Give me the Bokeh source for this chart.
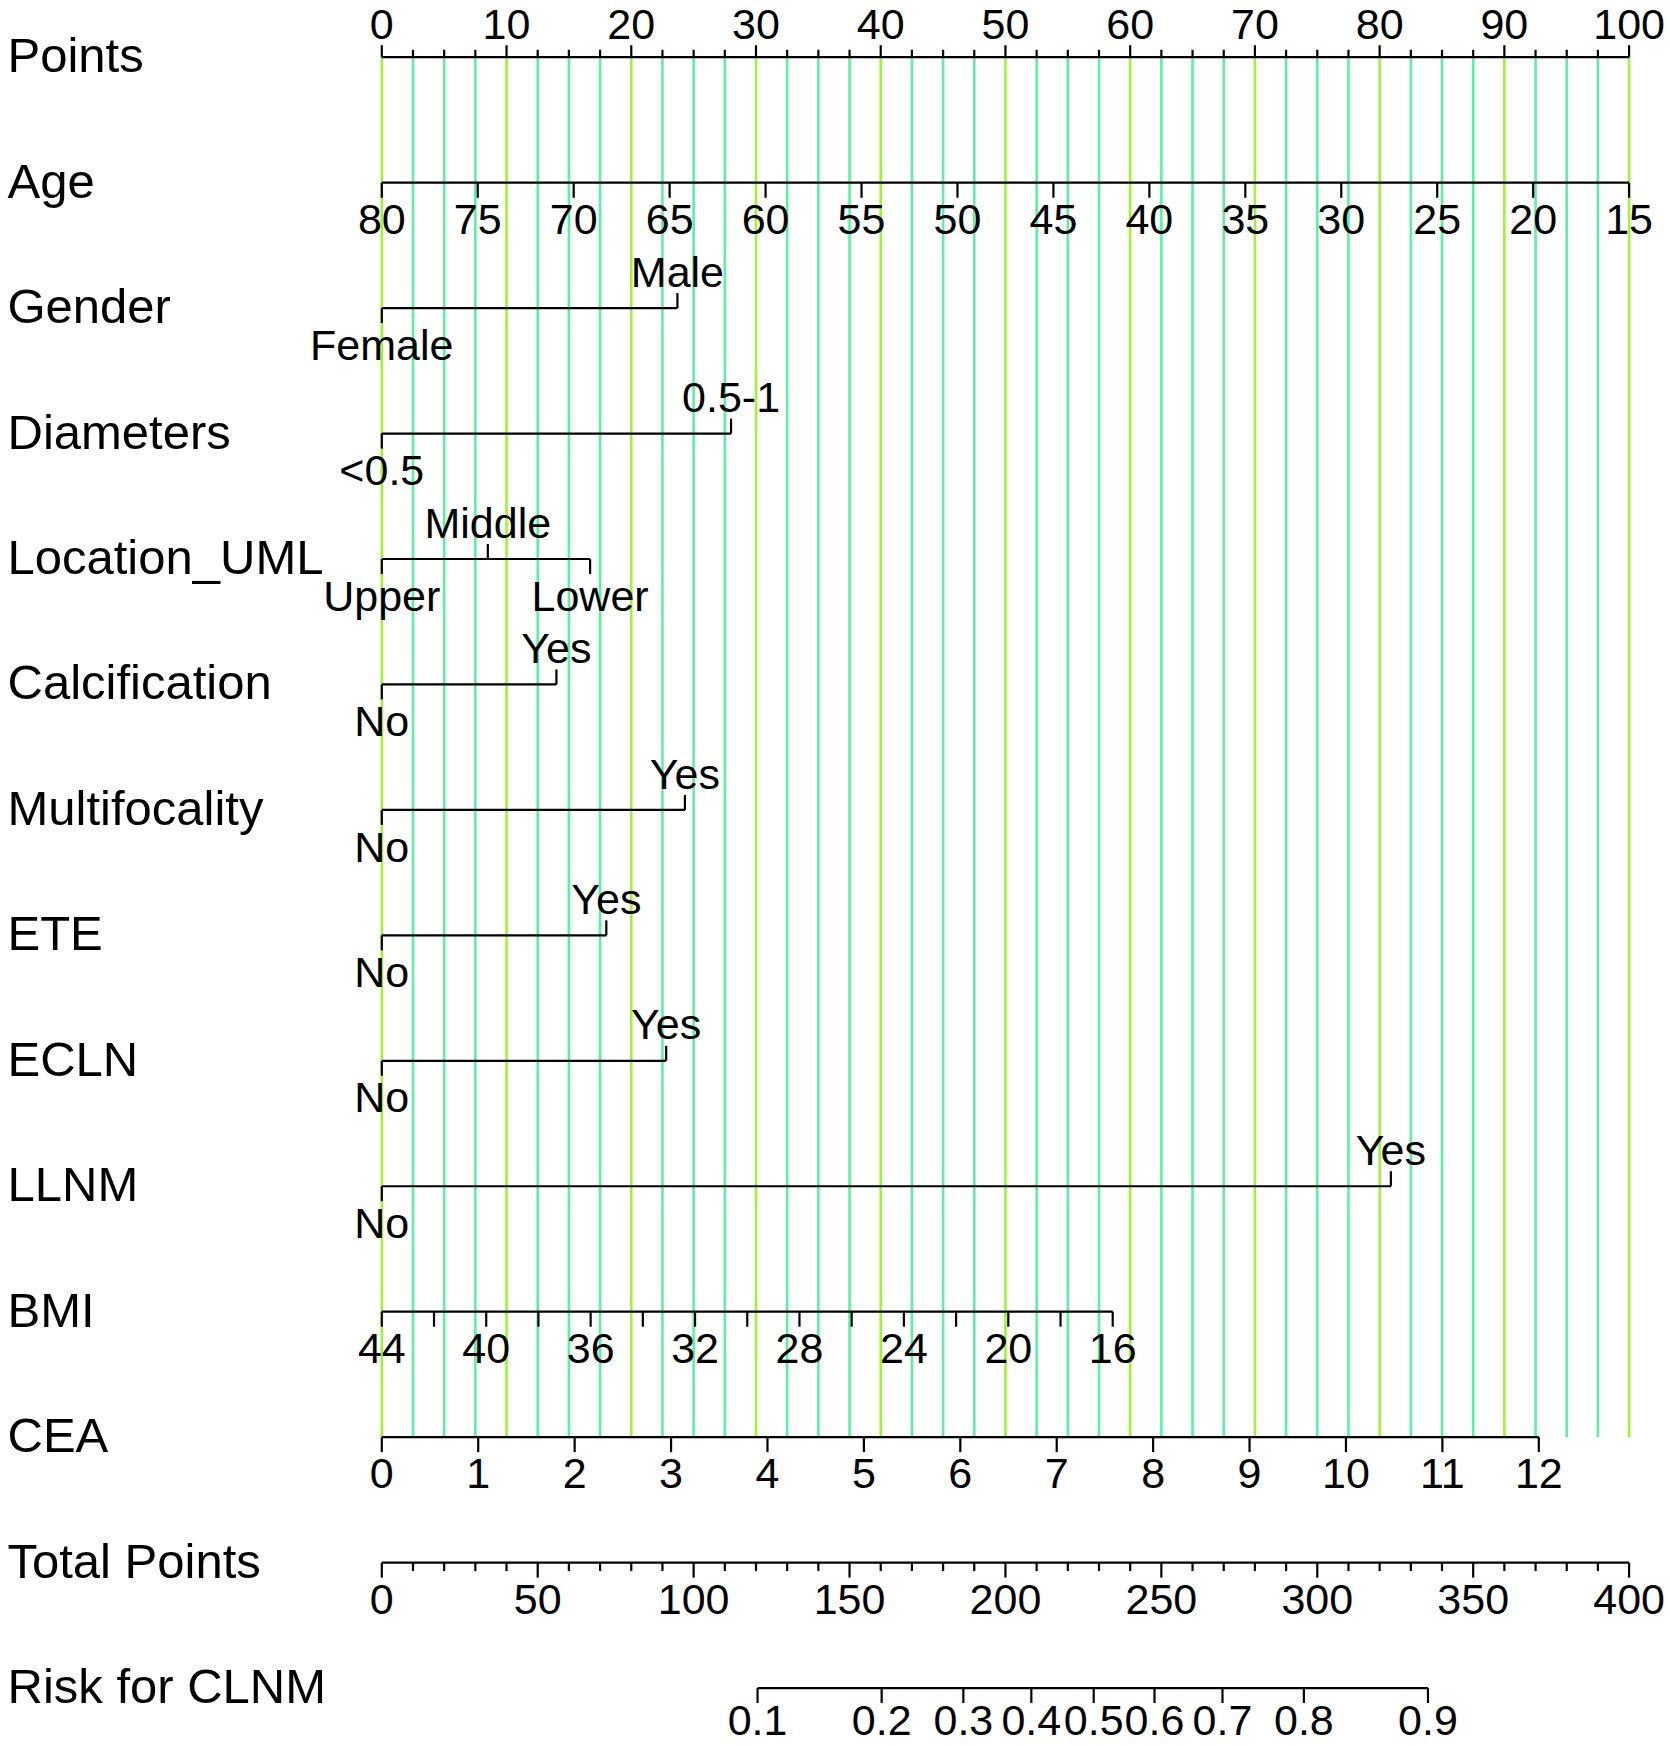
from bokeh.plotting import figure
from bokeh.models import Range1d
from bokeh.embed import file_html
from bokeh.resources import INLINE
from bokeh.core.properties import value

# ---------------- data ----------------
row_names = ["Points", "Age", "Gender", "Diameters", "Location_UML", "Calcification",
             "Multifocality", "ETE", "ECLN", "LLNM", "BMI", "CEA", "Total Points", "Risk for CLNM"]

points_labels = [0, 10, 20, 30, 40, 50, 60, 70, 80, 90, 100]
points_minor = [2.5 * i for i in range(41)]

age_labels = [80, 75, 70, 65, 60, 55, 50, 45, 40, 35, 30, 25, 20, 15]
age_range = [80, 15]          # age values at the two ends
age_range_points = [0, 100]   # points at the two ends

gender_levels = ["Female", "Male"]
gender_points = [0, 23.7]
diam_levels = ["<0.5", "0.5-1"]
diam_points = [0, 28.0]
loc_levels = ["Upper", "Middle", "Lower"]
loc_points = [0, 8.5, 16.7]
yesno_levels = ["No", "Yes"]
calc_points = [0, 14.0]
multi_points = [0, 24.3]
ete_points = [0, 18.0]
ecln_points = [0, 22.8]
llnm_points = [0, 80.9]

bmi_ticks = [44, 42, 40, 38, 36, 34, 32, 30, 28, 26, 24, 22, 20, 18, 16]
bmi_labels = [44, 40, 36, 32, 28, 24, 20, 16]
bmi_range = [44, 16]
bmi_range_points = [0, 58.6]

cea_ticks = [0, 1, 2, 3, 4, 5, 6, 7, 8, 9, 10, 11, 12]
cea_range = [0, 12]
cea_range_points = [0, 92.76]

total_ticks = list(range(0, 401, 10))
total_labels = [0, 50, 100, 150, 200, 250, 300, 350, 400]
total_range = [0, 400]

risk_labels = [0.1, 0.2, 0.3, 0.4, 0.5, 0.6, 0.7, 0.8, 0.9]
risk_total_points = [120.5, 160.3, 186.5, 208.3, 228.3, 247.8, 269.6, 295.7, 335.5]

# ---------------- layout ----------------
W, H = 1670, 1746
PX0, PX100 = 381.3, 1628.6
ppp = (PX100 - PX0) / 100.0
FONT = value("Liberation Sans")
ROW0, ROWSTEP = 56.7, 125.45
row_y = [ROW0 + ROWSTEP * i for i in range(len(row_names))]
BELOW, ABOVE = 36.6, -36.4
TOP_ABOVE = -32.6      # top row labels kept inside the canvas
RISK_BELOW = 32.5      # bottom row labels kept inside the canvas
LBL_SIZE = "43px"
NAME_SIZE = "49px"
NAME_DY = -2.0

p = figure(width=W, height=H,
           x_range=Range1d(-PX0 / ppp, (W - PX0) / ppp),
           y_range=Range1d(H, 0),
           output_backend="svg", toolbar_location=None, min_border=0,
           x_axis_type=None, y_axis_type=None)
p.outline_line_color = None
p.background_fill_color = "white"
p.border_fill_color = "white"

def lin(v, r, rp):
    return rp[0] + (v - r[0]) * (rp[1] - rp[0]) / (r[1] - r[0])

# grid lines
gx0, gy0, gx1, gy1, gc = [], [], [], [], []
for x in points_minor:
    gx0.append(x); gx1.append(x); gy0.append(row_y[0]); gy1.append(row_y[11])
    gc.append("#A2F23A" if abs(x % 10) < 1e-9 else "#5EEEA6")
p.segment(x0=gx0, y0=gy0, x1=gx1, y1=gy1, line_color=gc, line_width=2.6)

sx0, sy0, sx1, sy1 = [], [], [], []
tx, ty, tt = [], [], []

def seg(xa, ya, xb, yb):
    sx0.append(xa); sy0.append(ya); sx1.append(xb); sy1.append(yb)

def txt(x, y, s):
    tx.append(x); ty.append(y); tt.append(str(s))

# Points axis
y = row_y[0]
seg(0, y, 100, y)
for v in points_minor:
    major = abs(v % 10) < 1e-9
    seg(v, y, v, y - (12 if major else 7.5))
for v in points_labels:
    txt(v, y + TOP_ABOVE, v)

# Age
y = row_y[1]
seg(0, y, 100, y)
for a in age_labels:
    x = lin(a, age_range, age_range_points)
    seg(x, y, x, y + 15)
    txt(x, y + BELOW, a)

# categorical rows
cats = [(2, gender_levels, gender_points), (3, diam_levels, diam_points),
        (4, loc_levels, loc_points), (5, yesno_levels, calc_points),
        (6, yesno_levels, multi_points), (7, yesno_levels, ete_points),
        (8, yesno_levels, ecln_points), (9, yesno_levels, llnm_points)]
for idx, levels, pts in cats:
    y = row_y[idx]
    seg(min(pts), y, max(pts), y)
    for k, (lev, x) in enumerate(zip(levels, pts)):
        if k % 2 == 0:
            seg(x, y, x, y + 15)
            txt(x, y + BELOW, lev)
        else:
            seg(x, y, x, y - 15)
            txt(x, y + ABOVE, lev)

# BMI
y = row_y[10]
seg(lin(bmi_range[0], bmi_range, bmi_range_points), y, lin(bmi_range[1], bmi_range, bmi_range_points), y)
for b in bmi_ticks:
    x = lin(b, bmi_range, bmi_range_points)
    seg(x, y, x, y + 15)
for b in bmi_labels:
    txt(lin(b, bmi_range, bmi_range_points), y + BELOW, b)

# CEA
y = row_y[11]
seg(lin(cea_range[0], cea_range, cea_range_points), y, lin(cea_range[1], cea_range, cea_range_points), y)
for c in cea_ticks:
    x = lin(c, cea_range, cea_range_points)
    seg(x, y, x, y + 15)
    txt(x, y + BELOW, c)

# Total points
y = row_y[12]
seg(0, y, 100, y)
for t in total_ticks:
    x = lin(t, total_range, [0, 100])
    seg(x, y, x, y + (15 if t % 50 == 0 else 8.5))
for t in total_labels:
    txt(lin(t, total_range, [0, 100]), y + BELOW, t)

# Risk
y = row_y[13]
rx = [lin(t, total_range, [0, 100]) for t in risk_total_points]
seg(rx[0], y, rx[-1], y)
for r, x in zip(risk_labels, rx):
    seg(x, y, x, y + 15)
    txt(x, y + RISK_BELOW, r)

p.segment(x0=sx0, y0=sy0, x1=sx1, y1=sy1, line_color="black", line_width=2.2)
p.text(x=tx, y=ty, text=tt, text_font=FONT, text_font_size=LBL_SIZE,
       text_align="center", text_baseline="alphabetic", text_color="black")

# row names
name_x = [(7 - PX0) / ppp] * len(row_names)
name_y = [yy + NAME_DY for yy in row_y]
p.text(x=name_x, y=name_y, text=row_names, text_font=FONT, text_font_size=NAME_SIZE,
       text_align="left", text_baseline="alphabetic", text_color="black")

open("out.html", "w").write(file_html(p, INLINE))
